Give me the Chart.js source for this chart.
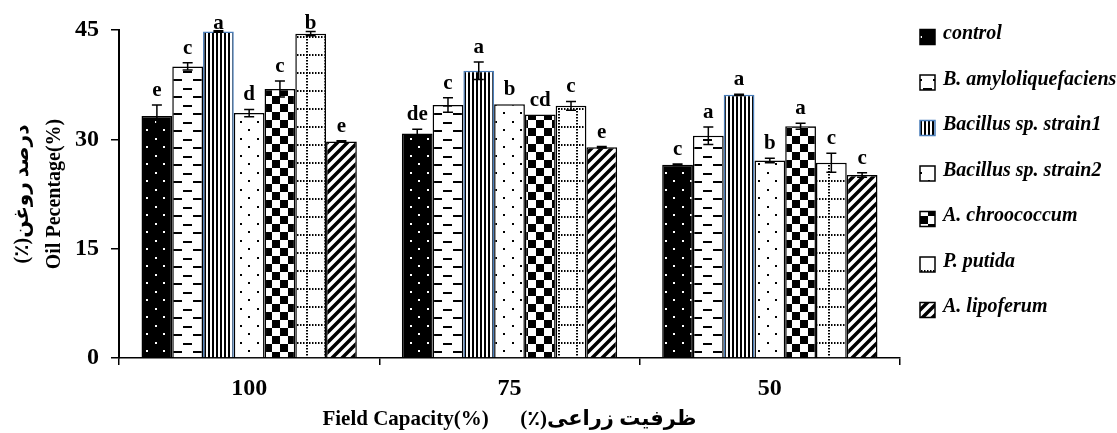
<!DOCTYPE html>
<html>
<head>
<meta charset="utf-8">
<script src="https://cdn.jsdelivr.net/npm/chart.js@4"></script>
<style>
  body { margin: 0; background: #fff; }
  #wrap { width: 1117px; height: 433px; }
</style>
</head>
<body>
<div id="wrap"><canvas id="chart"></canvas></div>
<script>
// values
const categories = ["100", "75", "50"];
const seriesNames = ["control", "B. amyloliquefaciens", "Bacillus sp. strain1", "Bacillus sp. strain2", "A. chroococcum", "P. putida", "A. lipoferum"];

const control = [33.2, 30.8, 26.5];
const amylo = [40.0, 34.7, 30.5];
const strain1 = [44.8, 39.4, 36.1];
const strain2 = [33.6, 34.8, 27.1];
const chroo = [36.9, 33.4, 31.8];
const putida = [44.5, 34.6, 26.8];
const lipo = [29.7, 28.9, 25.1];

const controlErr = [1.5, 0.6, 0.1];
const amyloErr = [0.5, 1.0, 1.2];
const strain1Err = [0.1, 1.2, 0.1];
const strain2Err = [0.5, 0, 0.3];
const chrooErr = [1.1, 0, 0.4];
const putidaErr = [0.3, 0.6, 1.3];
const lipoErr = [0.1, 0.1, 0.3];

const controlLetters = ["e", "de", "c"];
const amyloLetters = ["c", "c", "a"];
const strain1Letters = ["a", "a", "a"];
const strain2Letters = ["d", "b", "b"];
const chrooLetters = ["c", "cd", "a"];
const putidaLetters = ["b", "c", "c"];
const lipoLetters = ["e", "e", "c"];

const yTicks = [0, 15, 30, 45];

const SERIF = "'Liberation Serif', 'DejaVu Sans', serif";

// fill patterns
function makePattern(w, h, draw) {
  const c = document.createElement("canvas");
  c.width = w;
  c.height = h;
  const g = c.getContext("2d");
  draw(g, w, h);
  return g.createPattern(c, "repeat");
}

const patDots = makePattern(17, 17, (g, w, h) => {
  g.fillStyle = "#000"; g.fillRect(0, 0, w, h);
  g.fillStyle = "#fff"; g.fillRect(2, 2, 2, 2); g.fillRect(10, 10, 2, 2);
});
const patDash = makePattern(20, 17, (g, w, h) => {
  g.fillStyle = "#fff"; g.fillRect(0, 0, w, h);
  g.fillStyle = "#000";
  g.fillRect(3, 3, 9, 2);
  g.fillRect(13, 11, 7, 2); g.fillRect(0, 11, 2, 2);
});
const patVert = makePattern(4, 4, (g, w, h) => {
  g.fillStyle = "#fff"; g.fillRect(0, 0, w, h);
  g.fillStyle = "#000"; g.fillRect(0, 0, 2, h);
});
const patSparse = makePattern(17, 17, (g, w, h) => {
  g.fillStyle = "#fff"; g.fillRect(0, 0, w, h);
  g.fillStyle = "#000"; g.fillRect(2, 2, 2, 2); g.fillRect(10, 10, 2, 2);
});
const patCheck = makePattern(16, 16, (g, w, h) => {
  g.fillStyle = "#fff"; g.fillRect(0, 0, w, h);
  g.fillStyle = "#000"; g.fillRect(0, 0, 8, 8); g.fillRect(8, 8, 8, 8);
});
const patGrid = makePattern(18, 18, (g, w, h) => {
  g.fillStyle = "#fff"; g.fillRect(0, 0, w, h);
  g.fillStyle = "#000";
  for (let i = 0; i < w; i += 3) g.fillRect(i, 0, 1.5, 2);
  for (let j = 0; j < h; j += 3) g.fillRect(0, j, 2, 1.5);
});
const patDiag = makePattern(10, 10, (g, w, h) => {
  g.fillStyle = "#fff"; g.fillRect(0, 0, w, h);
  g.strokeStyle = "#000"; g.lineWidth = 3.5;
  g.beginPath();
  g.moveTo(-2, 12); g.lineTo(12, -2);
  g.moveTo(-7, 7); g.lineTo(7, -7);
  g.moveTo(3, 17); g.lineTo(17, 3);
  g.stroke();
});

const seriesValues = [control, amylo, strain1, strain2, chroo, putida, lipo];
const seriesErr = [controlErr, amyloErr, strain1Err, strain2Err, chrooErr, putidaErr, lipoErr];
const seriesLetters = [controlLetters, amyloLetters, strain1Letters, strain2Letters, chrooLetters, putidaLetters, lipoLetters];
const fills = [patDots, patDash, patVert, patSparse, patCheck, patGrid, patDiag];
const borders = ["#000", "#000", "#4a7ebb", "#000", "#000", "#000", "#000"];

const datasets = seriesNames.map((name, i) => ({
  label: name,
  data: seriesValues[i],
  backgroundColor: fills[i],
  borderColor: borders[i],
  borderWidth: 1.5,
  errors: seriesErr[i],
  letters: seriesLetters[i],
}));

// error bars + significance letters
const errorBars = {
  id: "errorBars",
  afterDatasetsDraw(chart) {
    const ctx = chart.ctx;
    const y = chart.scales.y;
    ctx.save();
    chart.data.datasets.forEach((ds, i) => {
      const meta = chart.getDatasetMeta(i);
      meta.data.forEach((bar, j) => {
        const v = ds.data[j];
        const e = ds.errors[j];
        const top = y.getPixelForValue(v + e);
        const bot = y.getPixelForValue(v - e);
        if (e > 0) {
          ctx.strokeStyle = "#000";
          ctx.lineWidth = 1.5;
          ctx.beginPath();
          ctx.moveTo(bar.x, top); ctx.lineTo(bar.x, bot);
          ctx.moveTo(bar.x - 5, top); ctx.lineTo(bar.x + 5, top);
          ctx.moveTo(bar.x - 5, bot); ctx.lineTo(bar.x + 5, bot);
          ctx.stroke();
        }
        ctx.fillStyle = "#000";
        ctx.font = "bold 21px " + SERIF;
        ctx.textAlign = "center";
        ctx.textBaseline = "alphabetic";
        ctx.fillText(ds.letters[j], bar.x, Math.max(top - 9, 29));
      });
    });
    ctx.restore();
  },
};

// legend on the right, drawn by hand so spacing matches
const sideLegend = {
  id: "sideLegend",
  afterDraw(chart) {
    const ctx = chart.ctx;
    const x0 = chart.chartArea.right + 20;
    ctx.save();
    chart.data.datasets.forEach((ds, i) => {
      const cy = 37 + i * 45.5;
      ctx.fillStyle = ds.backgroundColor;
      ctx.fillRect(x0, cy - 7.5, 15, 15);
      ctx.strokeStyle = ds.borderColor;
      ctx.lineWidth = 1.5;
      ctx.strokeRect(x0, cy - 7.5, 15, 15);
      ctx.fillStyle = "#000";
      ctx.font = "italic bold 20px " + SERIF;
      ctx.textAlign = "left";
      ctx.textBaseline = "middle";
      ctx.fillText(ds.label, x0 + 23, cy - 3);
    });
    ctx.restore();
  },
};

new Chart(document.getElementById("chart"), {
  type: "bar",
  data: { labels: categories, datasets: datasets },
  options: {
    responsive: true,
    maintainAspectRatio: false,
    animation: false,
    layout: { padding: { top: 30, right: 217, left: 0, bottom: 0 } },
    datasets: { bar: { categoryPercentage: 0.827, barPercentage: 1.0 } },
    plugins: {
      legend: { display: false },
      tooltip: { enabled: false },
    },
    scales: {
      x: {
        offset: true,
        grid: { offset: true, drawOnChartArea: false, drawTicks: true, tickLength: 7, color: "#000", lineWidth: 1.5 },
        border: { display: true, color: "#000", width: 1.5 },
        ticks: { color: "#000", padding: 9, font: { family: SERIF, size: 24, weight: "bold" } },
        title: {
          display: true,
          text: "Field Capacity(%)      (٪)ظرفیت زراعی",
          color: "#000",
          font: { family: SERIF, size: 21, weight: "bold", lineHeight: 1.2 },
          padding: { top: 0, bottom: 1 },
        },
        afterFit(scale) { scale.height = 75; },
      },
      y: {
        min: 0,
        max: 45,
        afterBuildTicks(scale) { scale.ticks = yTicks.map(v => ({ value: v })); },
        grid: { drawOnChartArea: false, drawTicks: true, tickLength: 8, color: "#000", lineWidth: 1.5 },
        border: { display: true, color: "#000", width: 2 },
        ticks: { color: "#000", padding: 12, font: { family: SERIF, size: 24, weight: "bold" } },
        title: {
          display: true,
          text: ["(٪)درصد روغن", "Oil Pecentage(%)"],
          color: "#000",
          font: { family: SERIF, size: 20, weight: "bold", lineHeight: 1.6 },
          padding: { top: 7, bottom: 0 },
        },
        afterFit(scale) { scale.width = 119; },
      },
    },
  },
  plugins: [errorBars, sideLegend],
});
</script>
</body>
</html>
